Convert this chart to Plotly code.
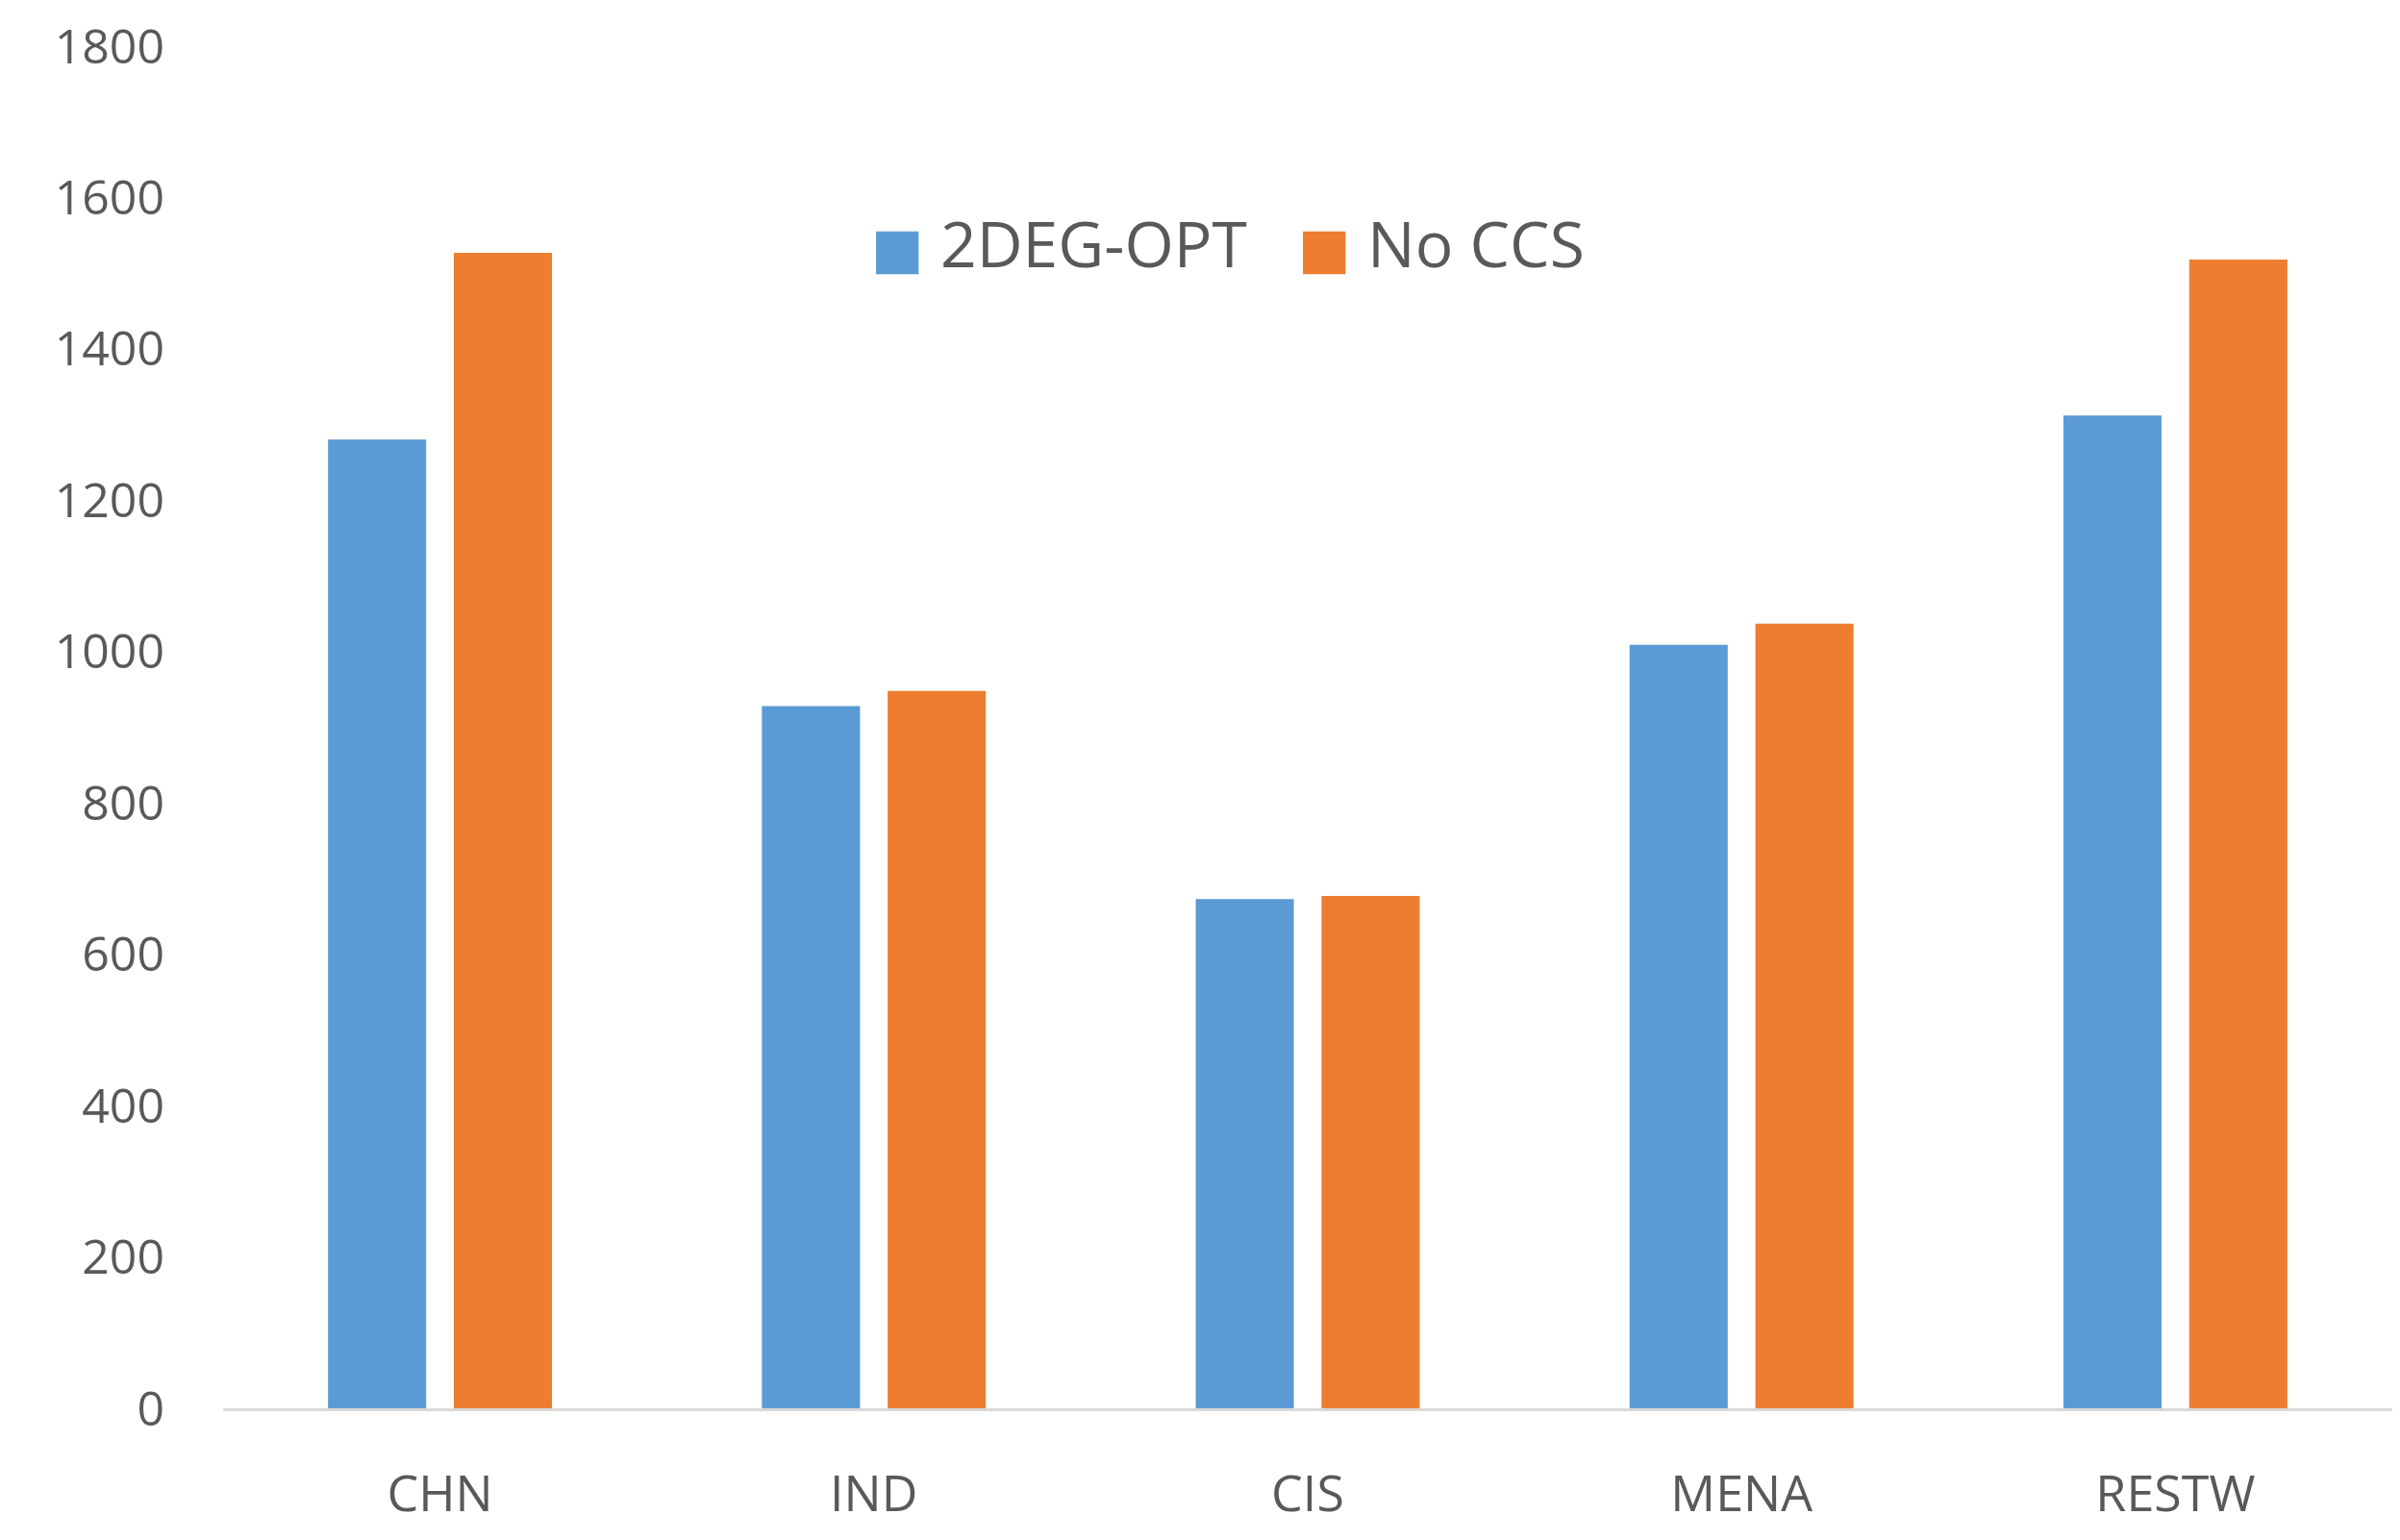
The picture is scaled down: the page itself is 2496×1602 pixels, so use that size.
import plotly.graph_objects as go

categories = ["CHN", "IND", "CIS", "MENA", "RESTW"]
opt_values = [1280, 928, 673, 1009, 1312]
nocss_values = [1527, 948, 677, 1037, 1518]
series_names = ["2DEG-OPT", "No CCS"]
series_colors = ["#5B9BD5", "#ED7D31"]
y_ticks = [0, 200, 400, 600, 800, 1000, 1200, 1400, 1600, 1800]

fig = go.Figure()
for name, vals, col in zip(series_names, [opt_values, nocss_values], series_colors):
    fig.add_trace(go.Bar(x=categories, y=vals, name=name,
                         marker=dict(color=col, line=dict(width=0))))

font_family = "Open Sans, DejaVu Sans, sans-serif"
fig.update_layout(
    width=2480, height=1586,
    margin=dict(l=224, r=0, t=40, b=129),
    paper_bgcolor="white", plot_bgcolor="white",
    barmode="group", bargap=0.42, bargroupgap=0.22,
    font=dict(family=font_family, color="#595959", size=50),
    showlegend=False,
)

# legend drawn as text items with coloured square glyphs
legend_x = [0.298, 0.4945]
for name, col, lx in zip(series_names, series_colors, legend_x):
    fig.add_annotation(
        xref="paper", yref="paper", x=lx, y=0.856, xanchor="left", yanchor="middle",
        showarrow=False,
        text=f"<span style='color:{col};font-family:DejaVu Sans;font-size:58px'>■</span> {name}",
        font=dict(size=66, color="#595959", family=font_family),
    )

fig.update_xaxes(showline=True, linecolor="#D9D9D9", linewidth=3, showgrid=False,
                 ticks="", tickfont=dict(size=52, color="#595959"), ticklabelstandoff=42)
fig.update_yaxes(range=[0, 1800], tickvals=y_ticks, showgrid=False, zeroline=False,
                 showline=False, ticks="", tickfont=dict(size=50, color="#595959"),
                 ticklabelstandoff=60)

fig.write_html("out.html")
